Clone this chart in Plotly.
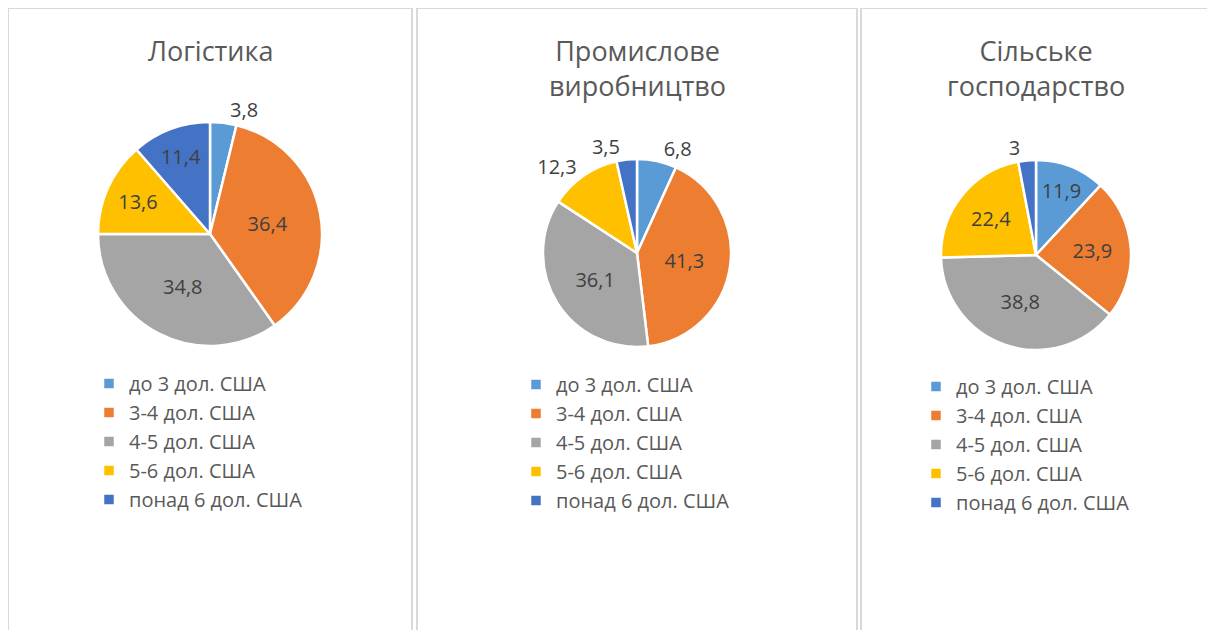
import plotly.graph_objects as go

categories = ["до 3 дол. США", "3-4 дол. США", "4-5 дол. США", "5-6 дол. США", "понад 6 дол. США"]
titles = ["Логістика", "Промислове<br>виробництво", "Сільське<br>господарство"]
logistics = [3.8, 36.4, 34.8, 13.6, 11.4]
industry = [6.8, 41.3, 36.1, 12.3, 3.5]
agriculture = [11.9, 23.9, 38.8, 22.4, 3.0]
series = [logistics, industry, agriculture]

colors = ["#5B9BD5", "#ED7D31", "#A5A5A5", "#FFC000", "#4472C4"]
textpos = [
    ["outside", "inside", "inside", "inside", "inside"],
    ["outside", "inside", "inside", "outside", "none"],
    ["inside", "inside", "inside", "inside", "outside"],
]
# labels drawn by a transparent overlay pie (avoids label scooting / leader lines)
overlay_pos = [None, ["none", "none", "none", "none", "outside"], None]

OFF = 8  # default page body margin
W, H = 1215 - OFF, 630 - OFF
def px_x(v):
    return (v - OFF) / W
def px_y(v):
    return 1 - (v - OFF) / H

# pie boxes (center x, center y, radius) in page px
pie_boxes = [(210, 234, 112), (637, 253, 94), (1036, 255, 95)]
panels = [(8, 412), (417, 857), (861, 1210)]
legend_left = [89, 516, 916]
legend_top = [364, 365, 367]

def fmt(v):
    return ("%g" % v).replace(".", ",")

label_font = dict(family="Open Sans", size=20, color="#404040")

fig = go.Figure()
legend_names = ["legend", "legend2", "legend3"]
for i, vals in enumerate(series):
    cx, cy, r = pie_boxes[i]
    dom = dict(x=[px_x(cx - r), px_x(cx + r)], y=[px_y(cy + r), px_y(cy - r)])
    labels = [c + "\u200b" * i for c in categories]
    fig.add_trace(go.Pie(
        labels=labels,
        values=vals,
        text=[fmt(v) for v in vals],
        textinfo="text",
        textposition=textpos[i],
        insidetextorientation="horizontal",
        sort=False,
        direction="clockwise",
        rotation=0,
        marker=dict(colors=colors, line=dict(color="white", width=2.5)),
        insidetextfont=label_font,
        outsidetextfont=label_font,
        domain=dom,
        legend=legend_names[i],
        hovertemplate="%{label}: %{text}<extra></extra>",
    ))
    if overlay_pos[i] is not None:
        fig.add_trace(go.Pie(
            labels=labels,
            values=vals,
            text=[fmt(v) for v in vals],
            textinfo="text",
            textposition=overlay_pos[i],
            sort=False,
            direction="clockwise",
            rotation=0,
            marker=dict(colors=["rgba(0,0,0,0)"] * len(vals), line=dict(width=0)),
            outsidetextfont=label_font,
            domain=dom,
            showlegend=False,
            hoverinfo="skip",
        ))

shapes = []
annotations = []
for i, (x0, x1) in enumerate(panels):
    shapes.append(dict(type="rect", xref="paper", yref="paper",
                       x0=px_x(x0), x1=px_x(x1), y0=-0.05, y1=px_y(8),
                       line=dict(color="#D9D9D9", width=2), fillcolor="rgba(0,0,0,0)"))
    annotations.append(dict(text=titles[i], xref="paper", yref="paper",
                            x=px_x((x0 + x1) / 2), y=px_y(30), xanchor="center", yanchor="top",
                            showarrow=False,
                            font=dict(family="Open Sans", size=27, color="#595959")))

legend_common = dict(font=dict(family="Open Sans", size=20, color="#595959"),
                     bgcolor="rgba(0,0,0,0)", xanchor="left", yanchor="top",
                     itemclick=False, itemdoubleclick=False)
layout_legends = {}
for i, name in enumerate(legend_names):
    layout_legends[name] = dict(x=px_x(legend_left[i]), y=px_y(legend_top[i]), **legend_common)

fig.update_layout(
    width=W, height=H,
    margin=dict(l=0, r=0, t=0, b=0),
    paper_bgcolor="white",
    plot_bgcolor="white",
    showlegend=True,
    shapes=shapes,
    annotations=annotations,
    **layout_legends,
)

fig.write_html("out.html")
